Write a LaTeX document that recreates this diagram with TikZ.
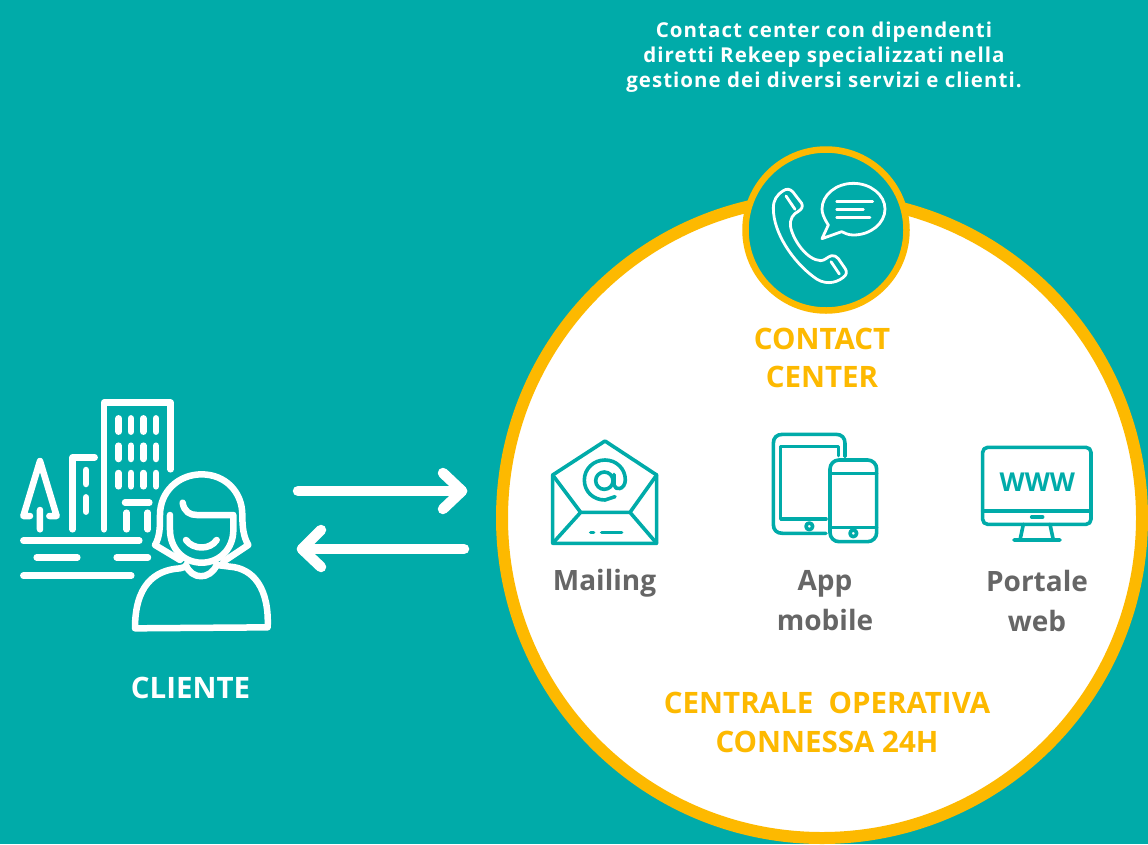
\documentclass[tikz,border=0pt]{standalone}
\usepackage{fontspec}
\setmainfont{Open Sans}
\newfontfamily\spaced[LetterSpace=5]{Open Sans}
\definecolor{teal0}{HTML}{00ABA9}
\definecolor{gold0}{HTML}{FDB900}
\definecolor{gray0}{HTML}{666666}
\newcommand{\fsz}[1]{\fontsize{#1}{#1}\selectfont\bfseries}
\begin{document}
\begin{tikzpicture}[x=1pt,y=-1pt,line cap=round,line join=round,
  whiteline/.style={draw=white,line width=6.5pt},
  thinline/.style={draw=white,line width=2.8pt},
  tealline/.style={draw=teal0,line width=3.6pt},
  flow/.style={draw=white,line width=10.5pt},
  lab/.style={inner sep=0pt,align=center,anchor=center},
  goldlab/.style={lab,text=gold0,font=\fsz{29.5}},
  graylab/.style={lab,text=gray0,font=\fsz{28}}]
\useasboundingbox (0,0) rectangle (1148,844);
\fill[teal0] (0,0) rectangle (1148,844);
% big circle
\begin{scope}
\clip (0,0) rectangle (1148,844);
\node[circle,draw=gold0,fill=white,line width=12pt,minimum size=640pt,inner sep=0pt] (central) at (822,518) {};
\end{scope}
\node[circle,draw=gold0,fill=teal0,line width=6.5pt,minimum size=161pt,inner sep=0pt] (cc) at (826,230) {};
% top text
\node[lab,text=white,font=\fsz{20.5}\spaced\bfseries] (note) at (824,57) {Contact center con dipendenti\\[4.5pt]diretti Rekeep specializzati nella\\[4.5pt]gestione dei diversi servizi e clienti.};
% labels
\node[goldlab] (ccl) at (822,358) {CONTACT\\[8.5pt]CENTER};
\node[graylab] (mail) at (604.5,583) {Mailing};
\node[graylab] (app) at (825,601) {App\\[12pt]mobile};
\node[graylab] (web) at (1037,601) {Portale\\[12pt]web};
\node[goldlab] (op) at (827,722) {CENTRALE\ \ OPERATIVA\\[9.5pt]CONNESSA 24H};
\node[lab,text=white,font=\fsz{29.5}] (cli) at (190.5,688) {CLIENTE};
% arrows
\coordinate (a1) at (298,491);
\coordinate (a2) at (462,491);
\coordinate (b1) at (464,549);
\coordinate (b2) at (302,549);
\draw[flow] (a1) -- (a2);
\draw[flow] (a2) ++(-19,-18) -- (a2) -- ++(-19,18);
\draw[flow] (b1) -- (b2);
\draw[flow] (b2) ++(19,-19) -- (b2) -- ++(19,18);
% client icon
\begin{scope}[shift={(0,380)},scale=1/3]
\draw[whiteline] (312,448) -- (312,68) -- (512,68) -- (512,268);
\foreach \x in {356,393,430,468} \foreach \y in {115,197,279} \draw[whiteline] (\x,\y) -- (\x,\y+40);
\draw[whiteline] (375,368) -- (448,368) (380,398) -- (380,448) (443,398) -- (443,448);
\draw[whiteline] (218,448) -- (218,232) -- (284,232) (258,270) -- (258,312) (258,352) -- (258,395);
\draw[whiteline] (90,408) -- (70,408) -- (120,243) -- (170,408) -- (148,408) (120,390) -- (120,448);
\draw[whiteline] (70,482) -- (418,482) (110,532) -- (232,532) (350,532) -- (444,532) (70,587) -- (394,587);
% person
\draw[whiteline] (540,540) -- (465,495) .. controls (480,470) and (480,440) .. (480,405) .. controls (480,335) and (535,283) .. (605,283) .. controls (675,283) and (727,335) .. (727,405) .. controls (727,440) and (730,470) .. (745,495) -- (670,545);
\draw[whiteline] (548,368) .. controls (552,395) and (570,405) .. (590,405) -- (700,405) -- (700,450) .. controls (700,505) and (660,548) .. (605,548) .. controls (550,548) and (510,505) .. (510,450) -- (510,405);
\draw[whiteline] (558,480) .. controls (580,510) and (630,510) .. (650,480);
\draw[whiteline] (558,555) .. controls (575,600) and (630,600) .. (650,555);
\draw[whiteline] (558,560) -- (540,565) .. controls (460,570) and (405,620) .. (405,745) -- (803,742) .. controls (808,625) and (760,565) .. (690,560) -- (650,555);
\end{scope}
% phone and bubble
\begin{scope}[shift={(730,140)},scale=1/3]
\draw[thinline] (160,152) .. controls (170,145) and (180,147) .. (188,155) -- (215,190) .. controls (220,200) and (215,208) .. (205,214) .. controls (190,222) and (178,235) .. (182,262) .. controls (190,300) and (230,360) .. (272,362) .. controls (285,362) and (292,350) .. (305,347) .. controls (312,345) and (320,350) .. (325,356) -- (345,385) .. controls (352,395) and (350,405) .. (340,412) .. controls (315,432) and (280,435) .. (250,410) .. controls (190,365) and (130,280) .. (130,205) .. controls (130,180) and (140,165) .. (160,152) -- cycle;
\draw[thinline] (168,168) -- (195,208) (303,365) -- (328,402);
\draw[thinline] (295,255) .. controls (282,235) and (276,220) .. (276,207) .. controls (276,165) and (318,130) .. (370,130) .. controls (422,130) and (465,165) .. (465,207) .. controls (465,250) and (422,285) .. (370,285) .. controls (355,285) and (345,280) .. (335,275) -- (276,296) -- cycle;
\draw[thinline] (320,185) -- (428,185) (320,208) -- (400,208) (320,232) -- (420,232);
\end{scope}
% mail and devices
\begin{scope}[shift={(540,425)},scale=1/3]
\draw[tealline] (38,150) -- (195,48) -- (350,150) -- (350,355) -- (38,355) -- cycle;
\draw[tealline] (38,150) -- (122,262) -- (270,262) -- (350,150) (122,262) -- (38,355) (270,262) -- (350,355);
\draw[tealline] (152,322) -- (161,322) (185,322) -- (245,322);
\draw[tealline] (193,167) circle (26);
\draw[tealline] (222,148) -- (222,180) .. controls (225,198) and (255,195) .. (256,165) .. controls (256,130) and (228,105) .. (195,105) .. controls (160,105) and (133,132) .. (133,165) .. controls (133,200) and (160,225) .. (195,225) -- (225,215);
% tablet
\draw[tealline] (858,325) -- (728,325) .. controls (710,325) and (700,315) .. (700,298) -- (700,55) .. controls (700,38) and (710,28) .. (728,28) -- (888,28) .. controls (905,28) and (915,38) .. (915,55) -- (915,95);
\draw[tealline] (895,92) -- (895,65) -- (722,65) -- (722,282) -- (858,282);
\draw[tealline] (808,304) circle (10);
\draw[tealline,rounded corners=9pt] (870,105) rectangle (1010,350);
\draw[tealline] (870,146) -- (1010,146) (870,307) -- (1010,307);
\draw[tealline] (940,325) circle (10);
\end{scope}
% monitor
\begin{scope}[shift={(960,430)},scale=1/3]
\draw[tealline,rounded corners=5pt] (68,52) rectangle (393,283);
\draw[tealline] (68,243) -- (393,243) (215,261) -- (248,261);
\draw[tealline] (190,283) -- (180,330) (270,283) -- (280,330) (162,330) -- (300,330);
\node[lab,text=teal0,font=\fsz{26}] (www) at (232,158) {WWW};
\end{scope}
\end{tikzpicture}
\end{document}
